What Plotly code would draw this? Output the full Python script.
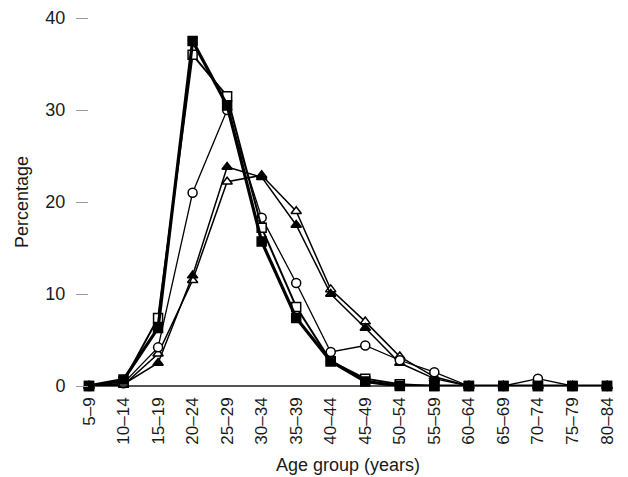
import plotly.graph_objects as go

age_groups = ["5–9", "10–14", "15–19", "20–24", "25–29", "30–34", "35–39", "40–44",
              "45–49", "50–54", "55–59", "60–64", "65–69", "70–74", "75–79", "80–84"]

series_filled_square = [0, 0.7, 6.3, 37.5, 30.5, 15.7, 7.4, 2.7, 0.5, 0, 0, 0, 0, 0, 0, 0]
series_open_square = [0, 0.5, 7.4, 36.0, 31.5, 17.2, 8.6, 2.7, 0.8, 0.2, 0, 0, 0, 0, 0, 0]
series_open_circle = [0, 0.3, 4.2, 21.0, 30.0, 18.3, 11.2, 3.7, 4.4, 2.8, 1.5, 0, 0, 0.8, 0, 0]
series_filled_triangle = [0, 0.2, 2.5, 12.0, 23.8, 22.7, 17.5, 10.0, 6.3, 2.5, 0.8, 0, 0, 0, 0, 0]
series_open_triangle = [0, 0.1, 3.5, 11.5, 22.2, 22.9, 19.0, 10.5, 7.0, 3.2, 1.0, 0, 0, 0, 0, 0]

y_ticks = [0, 10, 20, 30, 40]

fig = go.Figure()

def add(values, symbol, fill, width, size=9):
    fig.add_trace(go.Scatter(
        x=age_groups, y=values, mode="lines+markers",
        line=dict(color="black", width=width),
        marker=dict(symbol=symbol, size=size, color=fill,
                    line=dict(color="black", width=1.5)),
        cliponaxis=False, showlegend=False,
    ))

add(series_open_triangle, "triangle-up", "white", 1.5)
add(series_filled_triangle, "triangle-up", "black", 1.5)
add(series_open_circle, "circle", "white", 1.3)
add(series_open_square, "square", "white", 2)
add(series_filled_square, "square", "black", 3.2)

fig.update_layout(
    width=628, height=477,
    margin=dict(l=81, r=29, t=10, b=99),
    paper_bgcolor="white", plot_bgcolor="white",
    font=dict(family="Liberation Sans, Arial, sans-serif", color="#1a1a1a", size=16),
)
fig.update_xaxes(
    type="category", range=[0, 15], showgrid=False, showline=False, zeroline=False,
    ticks="", tickangle=-90, tickfont=dict(size=17), automargin=False,
    ticklabelstandoff=7,
    title=dict(text="Age group (years)", font=dict(size=18), standoff=14),
)
fig.update_yaxes(
    range=[0, 40], tickvals=y_ticks, showgrid=False, showline=False,
    zeroline=True, zerolinecolor="#555", zerolinewidth=1.5, automargin=False,
    ticks="outside", ticklen=12, tickcolor="#999", tickwidth=1,
    ticklabelstandoff=7, tickfont=dict(size=18),
    title=dict(text="Percentage", font=dict(size=18), standoff=12),
)

fig.write_html("out.html")
